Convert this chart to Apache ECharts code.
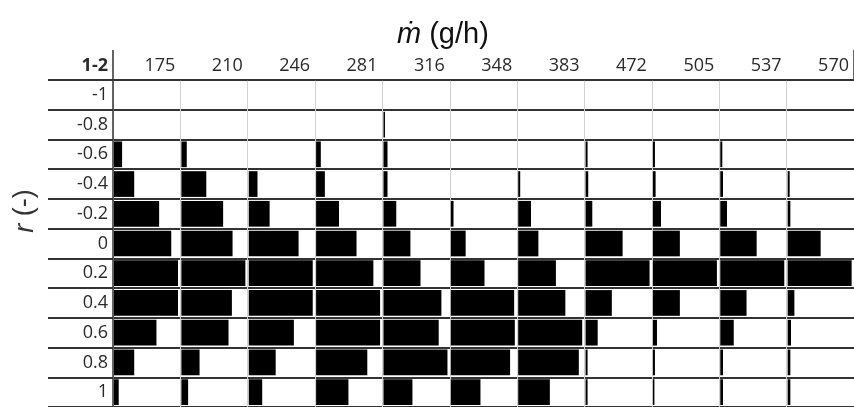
<!DOCTYPE html>
<html>
<head>
<meta charset="utf-8">
<script src="https://cdn.jsdelivr.net/npm/echarts@6/dist/echarts.min.js"></script>
<style>
  html, body { margin: 0; padding: 0; background: #fff; }
  #chart { width: 854px; height: 407px; }
</style>
</head>
<body>
<div id="chart"></div>
<script>
// mass flow columns (g/h) and r rows (top to bottom)
const mdot = [175, 210, 246, 281, 316, 348, 383, 472, 505, 537, 570]
const rLabels = ['-1', '-0.8', '-0.6', '-0.4', '-0.2', '0', '0.2', '0.4', '0.6', '0.8', '1']

// bar length per cell, as share of the column width, r = -1 ... 1
const m175 = [0, 0, 0.12, 0.30, 0.67, 0.85, 0.95, 0.95, 0.63, 0.30, 0.07]
const m210 = [0, 0, 0.08, 0.37, 0.62, 0.76, 0.95, 0.75, 0.70, 0.27, 0.10]
const m246 = [0, 0, 0, 0.13, 0.31, 0.74, 0.95, 0.95, 0.67, 0.40, 0.20]
const m281 = [0, 0, 0.07, 0.13, 0.34, 0.60, 0.85, 0.95, 0.95, 0.76, 0.48]
const m316 = [0, 0.02, 0.06, 0.06, 0.19, 0.40, 0.55, 0.86, 0.82, 0.95, 0.43]
const m348 = [0, 0, 0, 0, 0.04, 0.22, 0.50, 0.94, 0.95, 0.88, 0.44]
const m383 = [0, 0, 0, 0.03, 0.19, 0.30, 0.56, 0.70, 0.95, 0.90, 0.47]
const m472 = [0, 0, 0.03, 0.04, 0.10, 0.55, 0.95, 0.39, 0.18, 0.03, 0.03]
const m505 = [0, 0, 0.03, 0.04, 0.12, 0.40, 0.95, 0.40, 0.06, 0.03, 0.02]
const m537 = [0, 0, 0.03, 0.04, 0.10, 0.54, 0.95, 0.39, 0.20, 0.04, 0.04]
const m570 = [0, 0, 0, 0.03, 0.04, 0.49, 0.95, 0.10, 0.05, 0.04, 0.04]

const columns = [m175, m210, m246, m281, m316, m348, m383, m472, m505, m537, m570]

const cells = []
columns.forEach((col, c) => {
  col.forEach((v, r) => {
    if (v > 0) cells.push([c, r, v])
  })
})

const LINE = '#333'
const LABEL_FONT = '"Open Sans", "Noto Sans", sans-serif'

const chart = echarts.init(document.getElementById('chart'), null, { renderer: 'canvas' })

chart.setOption({
  animation: false,
  backgroundColor: '#fff',
  title: {
    text: '{i|ṁ} (g/h)',
    left: 392,
    top: 15,
    textStyle: {
      fontFamily: '"Liberation Sans", Arial, sans-serif',
      fontSize: 29,
      fontWeight: 'normal',
      color: '#111',
      rich: {
        i: { fontFamily: '"Liberation Sans", "DejaVu Sans", sans-serif', fontSize: 29, fontStyle: 'italic', color: '#111' }
      }
    }
  },
  graphic: [{
    type: 'text',
    x: 25,
    y: 211,
    rotation: Math.PI / 2,
    style: {
      text: '{i|r} (-)',
      align: 'center',
      verticalAlign: 'middle',
      fontFamily: '"Liberation Sans", Arial, sans-serif',
      fontSize: 27,
      fill: '#333',
      rich: { i: { fontStyle: 'italic', fontSize: 27, fontFamily: '"Liberation Sans", Arial, sans-serif' } }
    }
  }],
  grid: { left: 113, top: 80, width: 742.5, height: 328.5, containLabel: false },
  xAxis: [{
    type: 'value',
    position: 'top',
    min: 0,
    max: 11,
    interval: 1,
    axisLine: { show: true, lineStyle: { color: LINE, width: 1.5 } },
    axisTick: { show: false },
    splitLine: { show: true, lineStyle: { color: '#d2d2d2', width: 1 } },
    axisLabel: {
      show: true,
      align: 'right',
      margin: 5,
      padding: [0, 5, 0, 0],
      showMinLabel: true,
      showMaxLabel: true,
      fontFamily: LABEL_FONT,
      fontSize: 18,
      color: '#2a2a2a',
      formatter: v => (v === 0 ? '{b|1-2}' : String(mdot[v - 1])),
      rich: { b: { fontWeight: 'bold', fontFamily: LABEL_FONT, fontSize: 18, color: '#2a2a2a' } }
    }
  }, {
    type: 'value',
    position: 'top',
    min: 0,
    max: 11,
    interval: 11,
    axisLine: { show: false },
    axisLabel: { show: false },
    splitLine: { show: false },
    axisTick: { show: true, length: 30, lineStyle: { color: LINE, width: 1.5 } }
  }],
  yAxis: {
    type: 'category',
    data: rLabels,
    inverse: true,
    axisLine: { show: true, lineStyle: { color: LINE, width: 1.5 } },
    axisTick: { show: true, length: 65, lineStyle: { color: LINE, width: 1.8 } },
    splitLine: { show: true, lineStyle: { color: LINE, width: 1.8 } },
    axisLabel: {
      margin: 5,
      fontFamily: LABEL_FONT,
      fontSize: 18,
      color: '#2a2a2a'
    }
  },
  series: [{
    type: 'custom',
    xAxisIndex: 0,
    yAxisIndex: 0,
    data: cells,
    encode: { x: 0, y: 1 },
    renderItem: (params, api) => {
      const c = api.value(0)
      const r = api.value(1)
      const v = api.value(2)
      const p0 = api.coord([c + 0.015, r])
      const p1 = api.coord([c + 0.015 + v, r])
      const h = api.size([0, 1])[1] - 4
      return {
        type: 'rect',
        shape: { x: p0[0], y: p0[1] - h / 2, width: Math.max(p1[0] - p0[0], 1.5), height: h },
        style: { fill: '#000' }
      }
    }
  }]
})
</script>
</body>
</html>
